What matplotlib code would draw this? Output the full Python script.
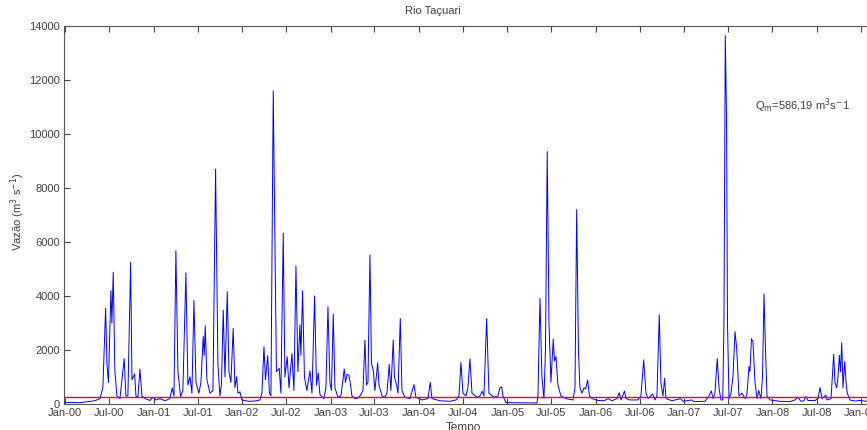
import pandas as pd
import matplotlib
matplotlib.use("Agg")
import matplotlib.pyplot as plt
import matplotlib.dates as mdates

# daily discharge (time in decimal years, flow in m3/s)
t_year = [
    2000.000, 2000.166, 2000.336, 2000.393, 2000.426, 2000.457, 2000.472, 2000.489, 2000.517, 2000.528,
    2000.543, 2000.562, 2000.585, 2000.619, 2000.667, 2000.687, 2000.709, 2000.740, 2000.755, 2000.785,
    2000.800, 2000.822, 2000.845, 2000.868, 2000.902, 2000.958, 2000.992, 2001.026, 2001.071, 2001.128,
    2001.184, 2001.210, 2001.230, 2001.252, 2001.275, 2001.305, 2001.331, 2001.365, 2001.388, 2001.411,
    2001.433, 2001.456, 2001.479, 2001.512, 2001.535, 2001.561, 2001.572, 2001.584, 2001.603, 2001.637,
    2001.671, 2001.701, 2001.727, 2001.750, 2001.767, 2001.787, 2001.807, 2001.833, 2001.852, 2001.874,
    2001.900, 2001.920, 2001.939, 2001.954, 2001.976, 2001.999, 2002.067, 2002.146, 2002.202, 2002.225,
    2002.248, 2002.265, 2002.290, 2002.310, 2002.327, 2002.353, 2002.372, 2002.389, 2002.421, 2002.440,
    2002.466, 2002.485, 2002.511, 2002.531, 2002.564, 2002.587, 2002.610, 2002.632, 2002.655, 2002.666,
    2002.685, 2002.706, 2002.734, 2002.768, 2002.791, 2002.821, 2002.842, 2002.862, 2002.881, 2002.926,
    2002.949, 2002.972, 2002.994, 2003.011, 2003.032, 2003.051, 2003.085, 2003.119, 2003.156, 2003.170,
    2003.187, 2003.209, 2003.228, 2003.243, 2003.277, 2003.311, 2003.334, 2003.368, 2003.390, 2003.407,
    2003.424, 2003.447, 2003.464, 2003.484, 2003.503, 2003.534, 2003.549, 2003.583, 2003.617, 2003.639,
    2003.665, 2003.684, 2003.710, 2003.724, 2003.749, 2003.764, 2003.790, 2003.809, 2003.843, 2003.899,
    2003.945, 2003.967, 2004.035, 2004.103, 2004.129, 2004.148, 2004.239, 2004.352, 2004.420, 2004.454,
    2004.476, 2004.499, 2004.533, 2004.555, 2004.578, 2004.601, 2004.657, 2004.691, 2004.717, 2004.736,
    2004.767, 2004.793, 2004.849, 2004.895, 2004.917, 2004.937, 2004.951, 2004.985, 2005.336, 2005.347,
    2005.370, 2005.392, 2005.415, 2005.432, 2005.452, 2005.472, 2005.494, 2005.520, 2005.534, 2005.551,
    2005.573, 2005.607, 2005.664, 2005.743, 2005.766, 2005.785, 2005.805, 2005.822, 2005.845, 2005.868,
    2005.887, 2005.909, 2005.930, 2005.958, 2006.026, 2006.094, 2006.142, 2006.184, 2006.241, 2006.267,
    2006.286, 2006.326, 2006.343, 2006.388, 2006.478, 2006.512, 2006.543, 2006.569, 2006.591, 2006.645,
    2006.671, 2006.693, 2006.719, 2006.738, 2006.761, 2006.780, 2006.795, 2006.863, 2006.961, 2006.987,
    2007.086, 2007.112, 2007.236, 2007.282, 2007.308, 2007.327, 2007.349, 2007.375, 2007.395, 2007.417,
    2007.437, 2007.451, 2007.466, 2007.480, 2007.491, 2007.508, 2007.530, 2007.553, 2007.576, 2007.595,
    2007.621, 2007.655, 2007.689, 2007.711, 2007.734, 2007.745, 2007.762, 2007.779, 2007.802, 2007.825,
    2007.844, 2007.870, 2007.887, 2007.904, 2007.921, 2007.938, 2007.972, 2008.085, 2008.198, 2008.254,
    2008.288, 2008.322, 2008.356, 2008.379, 2008.401, 2008.481, 2008.515, 2008.537, 2008.560, 2008.602,
    2008.616, 2008.662, 2008.692, 2008.707, 2008.726, 2008.741, 2008.756, 2008.769, 2008.783, 2008.798,
    2008.817, 2008.832, 2008.846, 2008.876, 2008.933, 2008.990, 2009.069, 2009.216,
]
vazao = [
    60, 50, 120, 200, 600, 3550, 1500, 800, 4200, 3000,
    4880, 1200, 300, 200, 1680, 300, 300, 5250, 900, 1110,
    300, 250, 1285, 300, 200, 130, 250, 150, 200, 120,
    200, 600, 300, 5680, 1200, 270, 500, 4860, 700, 1010,
    400, 3830, 800, 400, 800, 2500, 1800, 2900, 900, 400,
    500, 8700, 1500, 300, 700, 3480, 1000, 4160, 1200, 800,
    2800, 600, 1010, 400, 450, 150, 100, 110, 150, 400,
    2120, 900, 1790, 400, 300, 11600, 6000, 1200, 1320, 400,
    6320, 1000, 1750, 600, 1870, 500, 5110, 1200, 2930, 1800,
    4200, 1000, 500, 1230, 400, 4000, 700, 1150, 350, 200,
    600, 3600, 800, 500, 3330, 600, 250, 300, 1300, 800,
    1100, 1070, 700, 300, 200, 220, 300, 500, 2370, 700,
    800, 5520, 1500, 1260, 500, 1520, 700, 300, 250, 400,
    1470, 500, 2370, 1000, 700, 400, 3170, 500, 250, 200,
    720, 250, 150, 200, 800, 200, 120, 100, 150, 300,
    1540, 400, 300, 600, 1680, 400, 250, 300, 470, 300,
    3170, 400, 250, 300, 600, 630, 300, 50, 40, 300,
    3910, 1000, 200, 2000, 9350, 3000, 800, 2400, 1600, 1750,
    700, 300, 200, 150, 600, 7200, 2000, 600, 400, 600,
    560, 890, 300, 200, 130, 120, 200, 120, 200, 420,
    150, 480, 200, 150, 150, 300, 1630, 400, 200, 370,
    150, 300, 3300, 800, 300, 950, 200, 120, 200, 100,
    150, 90, 100, 300, 490, 200, 400, 1690, 600, 150,
    150, 3000, 13650, 10600, 3000, 200, 400, 1000, 2680, 2060,
    300, 400, 200, 350, 1380, 1200, 2420, 2300, 800, 200,
    500, 200, 1000, 4070, 2000, 300, 150, 100, 90, 150,
    250, 100, 120, 280, 130, 130, 200, 610, 200, 330,
    150, 200, 1840, 800, 600, 1000, 1800, 1200, 2270, 600,
    1570, 800, 400, 150, 110, 130, 100, 100,
]
q_ref = 250
q_media_txt = "Q$_{\\rm m}$=586,19 m$^3$s$^{-}$1"

dates = pd.Timestamp("2000-01-01") + pd.to_timedelta([(t - 2000) * 365.25 for t in t_year], unit="D")

plt.rcParams['font.family'] = ['Liberation Sans', 'DejaVu Sans']
grey = '#404040'

fig = plt.figure(figsize=(8.67, 4.30), dpi=100)
ax = fig.add_axes([64 / 867, 26 / 430, (880 - 64) / 867, 378 / 430])

ax.plot(dates, vazao, color='blue', lw=0.7)
ax.axhline(q_ref, color='red', lw=1.0, zorder=3)

ax.set_xlim(pd.Timestamp("1999-12-27"), dates[-1])
ax.set_ylim(0, 14000)
ax.set_yticks(range(0, 14001, 2000))
ax.xaxis.set_major_locator(mdates.MonthLocator(bymonth=[1, 7]))
ax.xaxis.set_major_formatter(mdates.DateFormatter('%b-%y'))

ax.tick_params(direction='in', length=4, width=0.8, top=True, right=True,
               labelsize=8, colors='#444444', labelcolor=grey, pad=3)
for s in ax.spines.values():
    s.set_color('#555555')
    s.set_linewidth(0.8)

fig.text(433 / 867, 1 - 11 / 430, "Rio Taçuari", ha='center', va='center', fontsize=8, color=grey)
fig.text(463 / 867, 1 - 428 / 430, "Tempo", ha='center', va='center', fontsize=8.5, color=grey)
fig.text(18 / 867, 1 - 212 / 430, "Vazão (m$^3$ s$^{-1}$)", rotation=90, ha='center', va='center',
         fontsize=8, color=grey)
fig.text(755 / 867, 1 - 106 / 430, q_media_txt, ha='left', va='center', fontsize=8, color=grey)

fig.savefig("out.png", dpi=100)
